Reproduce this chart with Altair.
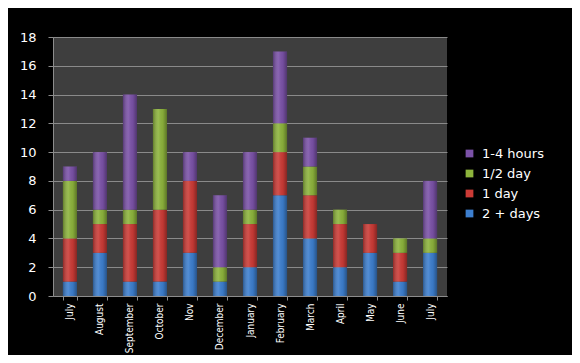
import json
import altair as alt
import pandas as pd

months = ["July", "August", "September", "October", "Nov", "December", "January",
          "February", "March", "April", "May", "June", "July"]
series = ["2 + days", "1 day", "1/2 day", "1-4 hours"]
two_plus = [1, 3, 1, 1, 3, 1, 2, 7, 4, 2, 3, 1, 3]
one_day = [3, 2, 4, 5, 5, 0, 3, 3, 3, 3, 2, 2, 0]
half_day = [4, 1, 1, 7, 0, 1, 1, 2, 2, 1, 0, 1, 1]
hours = [1, 4, 8, 0, 2, 5, 4, 5, 2, 0, 0, 0, 4]
colors = ["#3d7fcf", "#cc3b36", "#8db43c", "#7b52a8"]
y_ticks = list(range(0, 19, 2))

rows = []
for s_i, (name, vals) in enumerate(zip(series, [two_plus, one_day, half_day, hours])):
    for m_i, v in enumerate(vals):
        if v > 0:
            rows.append({"idx": m_i, "series": name, "order": s_i, "value": v})
df = pd.DataFrame(rows)

label_expr = json.dumps(months) + "[datum.value]"

x_scale = alt.Scale(paddingInner=0.53, paddingOuter=0.33)
y_scale = alt.Scale(domain=[0, 18], nice=False)

x_enc = alt.X("idx:O", title=None, scale=x_scale,
              axis=alt.Axis(labelExpr=label_expr, labelAngle=-90, labelAlign="right",
                            labelBaseline="middle", labelPadding=3,
                            labelFont="Liberation Sans Narrow, DejaVu Sans Condensed, sans-serif",
                            labelFontSize=10, labelColor="white",
                            domainColor="#8c8c8c", tickColor="#8c8c8c", tickSize=4,
                            tickBand="extent", grid=False))
y_enc = alt.Y("y0:Q", title=None, scale=y_scale,
              axis=alt.Axis(values=y_ticks, labelFont="DejaVu Sans", labelFontSize=13,
                            labelColor="white", labelPadding=12, tickSize=5,
                            tickColor="#8c8c8c", domainColor="#8c8c8c",
                            gridColor="#8a8a8a", gridWidth=1.2))

base = alt.Chart(df).transform_stack(
    stack="value", groupby=["idx"], as_=["y0", "y1"],
    sort=[alt.SortField("order", order="ascending")]
)

bars = base.mark_bar().encode(
    x=x_enc,
    y=y_enc,
    y2="y1:Q",
    color=alt.Color("series:N",
                    scale=alt.Scale(domain=series[::-1], range=colors[::-1]),
                    legend=alt.Legend(title=None, orient="none", legendX=410, legendY=110,
                                      symbolType="square", symbolSize=60,
                                      symbolStrokeWidth=0,
                                      labelFont="DejaVu Sans", labelFontSize=13,
                                      labelColor="white", rowPadding=6, labelOffset=6)),
)

shade = alt.Gradient(
    gradient="linear", x1=0, x2=1, y1=0, y2=0,
    stops=[alt.GradientStop(color="rgba(0,0,0,0.30)", offset=0),
           alt.GradientStop(color="rgba(255,255,255,0.10)", offset=0.4),
           alt.GradientStop(color="rgba(0,0,0,0.05)", offset=0.7),
           alt.GradientStop(color="rgba(0,0,0,0.35)", offset=1)],
)
overlay = base.mark_bar(fill=shade).encode(x=x_enc, y=y_enc, y2="y1:Q")

chart = alt.layer(bars, overlay).properties(
    width=394, height=259,
    padding={"left": 45, "top": 29, "right": 125, "bottom": 59},
    autosize=alt.AutoSizeParams(type="none"),
    background="black",
).configure_view(fill="#3e3e3e", stroke=None)

chart.save("out.html", embed_options={"renderer": "svg", "actions": False})
